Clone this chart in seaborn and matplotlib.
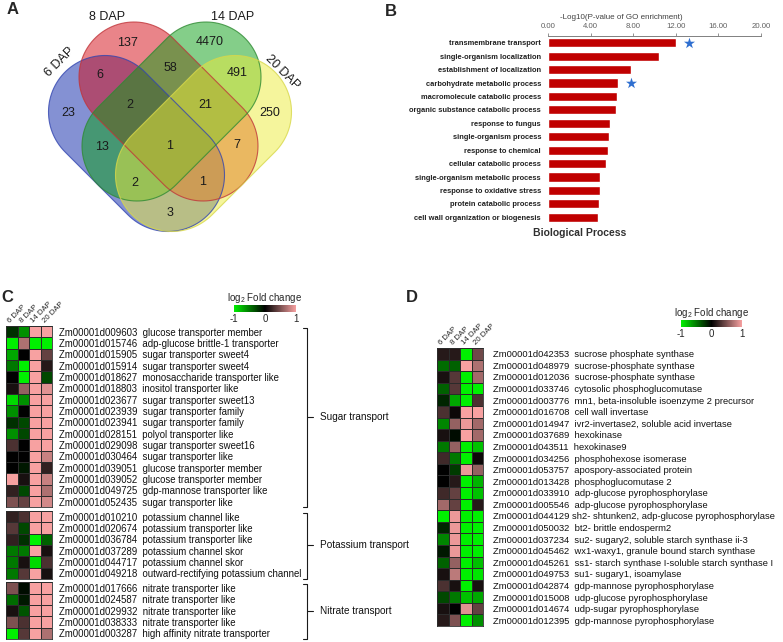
import numpy as np
import pandas as pd
import matplotlib
matplotlib.use('Agg')
import matplotlib.pyplot as plt
from matplotlib.patches import Polygon
from matplotlib.colors import LinearSegmentedColormap
import seaborn as sns

# ---------------- panel A: Venn counts ----------------
venn_sets = ['6 DAP', '8 DAP', '14 DAP', '20 DAP']
venn_regions = ['A', 'B', 'C', 'D', 'AB', 'BC', 'CD', 'AC', 'BD', 'AD',
                'ABC', 'BCD', 'ACD', 'ABD', 'ABCD']
venn_counts = [23, 137, 4470, 250, 6, 58, 491, 13, 7, 3, 2, 21, 2, 1, 1]

# ---------------- panel B: GO enrichment ----------------
go_terms = ['transmembrane transport', 'single-organism localization',
            'establishment of localization', 'carbohydrate metabolic process',
            'macromolecule catabolic process', 'organic substance catabolic process',
            'response to fungus', 'single-organism process', 'response to chemical',
            'cellular catabolic process', 'single-organism metabolic process',
            'response to oxidative stress', 'protein catabolic process',
            'cell wall organization or biogenesis']
go_scores = [12.0, 10.4, 7.8, 6.6, 6.5, 6.4, 5.8, 5.7, 5.6, 5.4, 4.9, 4.85, 4.8, 4.7]
go_starred = ['transmembrane transport', 'carbohydrate metabolic process']

# ---------------- panel C: transporters ----------------
dap_labels = ['6 DAP', '8 DAP', '14 DAP', '20 DAP']
c_ids = ['009603', '015746', '015905', '015914', '018627', '018803', '023677',
         '023939', '023941', '028151', '029098', '030464', '039051', '039052',
         '049725', '052435',
         '010210', '020674', '036784', '037289', '044717', '049218',
         '017666', '024587', '029932', '038333', '003287']
c_desc = ['glucose transporter member', 'adp-glucose brittle-1 transporter',
          'sugar transporter sweet4', 'sugar transporter sweet4',
          'monosaccharide transporter like', 'inositol transporter like',
          'sugar transporter sweet13', 'sugar transporter family',
          'sugar transporter family', 'polyol transporter like',
          'sugar transporter sweet16', 'sugar transporter like',
          'glucose transporter member', 'glucose transporter member',
          'gdp-mannose transporter like', 'sugar transporter like',
          'potassium channel like', 'potassium transporter like',
          'potassium transporter like', 'potassium channel skor',
          'potassium channel skor', 'outward-rectifying potassium channel',
          'nitrate transporter like', 'nitrate transporter like',
          'nitrate transporter like', 'nitrate transporter like',
          'high affinity nitrate transporter']
c_group_names = ['Sugar transport', 'Potassium transport', 'Nitrate transport']
c_group_sizes = [16, 6, 5]
c_fc = [[-0.2, -0.6, 1, 1], [-1, 0.7, -1, -1], [-0.7, 0, 1, 0.4],
        [-0.5, -1, 1, 0.15], [0, -1, 1, -0.3], [0.1, 0.6, 1, 0.9],
        [-0.9, -0.6, 1, 1], [-0.6, 0, 1, 1], [-0.2, -0.3, 1, 1],
        [-0.6, -0.3, 1, 1], [0.3, 0, 1, 1], [0, 0, 1, 0.8],
        [0, -0.1, 1, 0.2], [1, 0.1, 1, 0.8], [0.2, -0.3, 1, 0.7],
        [0.5, 0.4, 1, 0.85],
        [0.2, 0.3, 1, 1], [0.35, -0.3, 1, 1], [0.2, -0.2, -1, -0.4],
        [-0.5, -0.5, 1, 0.1], [-0.5, 0.1, -0.9, 0.3], [-0.5, 0.35, 1, 0.1],
        [0.5, -0.05, 1, 1], [-0.45, -0.1, 1, 1], [0.1, -0.35, 1, 1],
        [0.5, 0.3, 1, 1], [-1, 0.35, 1, 0.7]]

# ---------------- panel D: carbohydrate metabolism ----------------
d_ids = ['042353', '048979', '012036', '033746', '003776', '016708', '014947',
         '037689', '043511', '034256', '053757', '013428', '033910', '005546',
         '044129', '050032', '037234', '045462', '045261', '049753', '042874',
         '015008', '014674', '012395']
d_desc = ['sucrose phosphate synthase', 'sucrose-phosphate synthase',
          'sucrose-phosphate synthase', 'cytosolic phosphoglucomutase',
          'mn1, beta-insoluble isoenzyme 2 precursor', 'cell wall invertase',
          'ivr2-invertase2, soluble acid invertase', 'hexokinase', 'hexokinase9',
          'phosphohexose isomerase', 'apospory-associated protein',
          'phosphoglucomutase 2', 'adp-glucose pyrophosphorylase',
          'adp-glucose pyrophosphorylase',
          'sh2- shtunken2, adp-glucose pyrophosphorylase', 'bt2- brittle endosperm2',
          'su2- sugary2, soluble starch synthase ii-3',
          'wx1-waxy1, granule bound starch synthase',
          'ss1- starch synthase I-soluble starch synthase I',
          'su1- sugary1, isoamylase', 'gdp-mannose pyrophosphorylase',
          'udp-glucose pyrophosphorylase', 'udp-sugar pyrophosphorylase',
          'gdp-mannose pyrophosphorylase']
d_fc = [[0.15, 0.15, -1, 0.45], [-0.45, -0.4, 1, 0.7], [0.1, 0.35, -1, 0.65],
        [-0.4, 0.35, -1, -1], [-0.15, -0.7, -1, 0.3], [0.3, 0.05, 1, 1],
        [-0.55, 0.6, 0.95, 0.65], [0.1, -0.05, 1, 0.65], [-0.5, 0.6, -1, -0.8],
        [0.25, -0.5, -1, 0.05], [0, -0.25, 0.95, 0.6], [0, 0.15, -1, -0.75],
        [0.25, 0.4, -1, -0.8], [0.65, 0.4, -1, 0.15], [-1, 0.95, -1, -1],
        [-0.15, 0.95, -1, -1], [-0.55, 0.95, -1, -1], [-0.1, 0.95, -1, -1],
        [-0.4, 0.6, -1, -0.8], [0.1, 0.75, -1, -0.95], [0.3, 0.1, -1, 0.1],
        [-0.3, -0.5, -0.8, -0.7], [0.1, 0, 0.9, 0.4], [0.15, 0.5, -1, -0.6]]

W, H = 783, 642
sns.set_theme(style='white')
plt.rcParams['font.family'] = ['Liberation Sans', 'DejaVu Sans']
plt.rcParams['mathtext.default'] = 'regular'
plt.rcParams['axes.unicode_minus'] = False

fc_cmap = LinearSegmentedColormap.from_list('fc', ['#00f000', '#000000', '#f7a1a1'])

fig = plt.figure(figsize=(W / 100, H / 100), dpi=100)


def px_axes(x0, y0, x1, y1):
    return fig.add_axes([x0 / W, 1 - y1 / H, (x1 - x0) / W, (y1 - y0) / H])


# overlay in pixel coordinates for the Venn diagram and brackets
ov = px_axes(0, 0, W, H)
ov.set_xlim(0, W)
ov.set_ylim(H, 0)
ov.axis('off')


def capsule(c1, c2, r, n=60):
    (x1, y1), (x2, y2) = c1, c2
    a = np.arctan2(y2 - y1, x2 - x1)
    t = np.linspace(-np.pi / 2, np.pi / 2, n)
    arc2 = np.c_[x2 + r * np.cos(a + t), y2 + r * np.sin(a + t)]
    arc1 = np.c_[x1 + r * np.cos(a + np.pi + t), y1 + r * np.sin(a + np.pi + t)]
    return np.vstack([arc2, arc1])


# ---- A: Venn
venn_shapes = [((105, 112), (168, 175), 56.5, '#0a24a8', '#3346b0'),
               ((134, 77), (203, 146), 55, '#d40a14', '#c0353a'),
               ((206, 77), (137, 146), 55, '#0a9e14', '#2f8a33'),
               ((235, 112), (172, 175), 56.5, '#ecec3a', '#d8d84a')]
for c1, c2, r, fc, ec in venn_shapes:
    ov.add_patch(Polygon(capsule(c1, c2, r), closed=True, facecolor=fc,
                         edgecolor='none', alpha=0.5))
for c1, c2, r, fc, ec in venn_shapes:
    ov.add_patch(Polygon(capsule(c1, c2, r), closed=True, facecolor='none',
                         edgecolor=ec, lw=0.8, alpha=0.8))

region_pos = {'A': (68, 113), 'B': (127, 43), 'C': (210, 42), 'D': (270, 113),
              'AB': (100, 75), 'BC': (170, 68), 'CD': (237, 73), 'AC': (102, 147),
              'BD': (237, 145), 'AD': (170, 213), 'ABC': (130, 105),
              'BCD': (205, 105), 'ACD': (135, 183), 'ABD': (203, 182),
              'ABCD': (170, 146)}
for reg, cnt in zip(venn_regions, venn_counts):
    x, y = region_pos[reg]
    ov.text(x, y, str(cnt), ha='center', va='center', fontsize=9, color='#1a1a1a')

set_pos = [(60, 62, 45), (107, 17, 0), (233, 17, 0), (282, 72, -45)]
for name, (x, y, rot) in zip(venn_sets, set_pos):
    ov.text(x, y, name, ha='center', va='center', fontsize=9, rotation=rot,
            color='#1a1a1a')

# ---- B: GO bar chart
axb = px_axes(548, 36, 761, 224)
sns.barplot(x=go_scores, y=go_terms, color='#c00000', saturation=1, width=0.68,
            orient='h', ax=axb)
star_y = [go_terms.index(t) for t in go_starred]
star_x = [go_scores[i] + 1.2 for i in star_y]
axb.scatter(star_x, star_y, marker='*', s=70, color='#2f6fd0', zorder=3, lw=0)
axb.set_xlim(0, 20)
axb.set_ylim(len(go_terms) - 0.5, -0.5)
axb.set_xticks(np.arange(0, 21, 4))
axb.set_xticklabels([f'{v:.2f}' for v in np.arange(0, 21, 4)])
axb.xaxis.tick_top()
axb.xaxis.set_label_position('top')
axb.set_xlabel('-Log10(P-value of GO enrichment)', fontsize=5.8, color='#404040')
axb.xaxis.set_label_coords(0.343, 1.088)
axb.tick_params(axis='x', top=True, length=2.5, width=0.6, color='#808080',
                labelsize=5.6, labelcolor='#606060', pad=1.5)
axb.tick_params(axis='y', length=0, pad=5, labelsize=5.4, labelcolor='#202020')
for lab in axb.get_yticklabels():
    lab.set_fontweight('bold')
for s in ['left', 'right', 'bottom']:
    axb.spines[s].set_visible(False)
axb.spines['top'].set_color('#808080')
axb.spines['top'].set_linewidth(0.7)
axb.set_ylabel('')
fig.text(580 / W, 1 - 233 / H, 'Biological Process', ha='center', va='center',
         fontsize=7.5, fontweight='bold', color='#303030')


# ---- heatmaps
def draw_heat(ax, values, ids, desc, show_cols=False, cax=None, fs=7.0, pad=4):
    labels = [f'Zm00001d{i}{" " if d.startswith("sh2") else "  "}{d}'
              for i, d in zip(ids, desc)]
    df = pd.DataFrame(values, columns=dap_labels, index=labels)
    sns.heatmap(df, ax=ax, cmap=fc_cmap, vmin=-1, vmax=1, linewidths=0.5,
                linecolor='#2b2b2b', cbar=cax is not None, cbar_ax=cax,
                cbar_kws=dict(orientation='horizontal', ticks=[-1, 0, 1]),
                xticklabels=show_cols, yticklabels=True)
    ax.yaxis.tick_right()
    ax.tick_params(axis='y', length=0, pad=pad, labelsize=fs, labelrotation=0,
                   labelcolor='#111111')
    for sp in ax.spines.values():
        sp.set_visible(True)
        sp.set_color('#2b2b2b')
        sp.set_linewidth(0.6)
    if show_cols:
        ax.xaxis.tick_top()
        ax.tick_params(axis='x', length=0, pad=1, labelsize=5.6)
        for lab in ax.get_xticklabels():
            lab.set_rotation(45)
            lab.set_ha('left')
            lab.set_rotation_mode('anchor')
    else:
        ax.set_xticks([])
    if cax is not None:
        cax.set_title('log$_2$ Fold change', fontsize=7, pad=1.5)
        cax.tick_params(length=0, labelsize=7, pad=1.5)
        cbar = ax.collections[0].colorbar
        if cbar is not None:
            cbar.outline.set_visible(False)


# C: three groups stacked
row_h, gap, top = 11.33, 3.6, 326
start = 0
for gi, (gname, n) in enumerate(zip(c_group_names, c_group_sizes)):
    y0, y1 = top, top + n * row_h
    ax = px_axes(6, y0, 52, y1)
    cax = px_axes(234, 305, 296, 312) if gi == 0 else None
    draw_heat(ax, c_fc[start:start + n], c_ids[start:start + n],
              c_desc[start:start + n], show_cols=(gi == 0), cax=cax,
              fs=6.9, pad=5)
    # bracket
    bx = 307
    ov.plot([bx - 4, bx, bx, bx - 4], [y0 + 2, y0 + 2, y1, y1], color='#1a1a1a',
            lw=0.8, solid_joinstyle='round')
    ym = (y0 + y1) / 2
    ov.plot([bx, bx + 6], [ym, ym], color='#1a1a1a', lw=0.8)
    ov.text(bx + 13, ym, gname, ha='left', va='center', fontsize=7.2,
            color='#111111')
    start += n
    top = y1 + gap

# D
axd = px_axes(437, 348, 483, 626)
caxd = px_axes(681, 320, 742, 327)
draw_heat(axd, d_fc, d_ids, d_desc, show_cols=True, cax=caxd, fs=6.75, pad=7)

# panel letters
for letter, (x, y) in zip('ABCD', [(13, 9), (391, 11), (7, 297), (412, 297)]):
    fig.text(x / W, 1 - y / H, letter, fontsize=12, fontweight='bold',
             ha='center', va='center')

fig.savefig('out.png', dpi=100)
